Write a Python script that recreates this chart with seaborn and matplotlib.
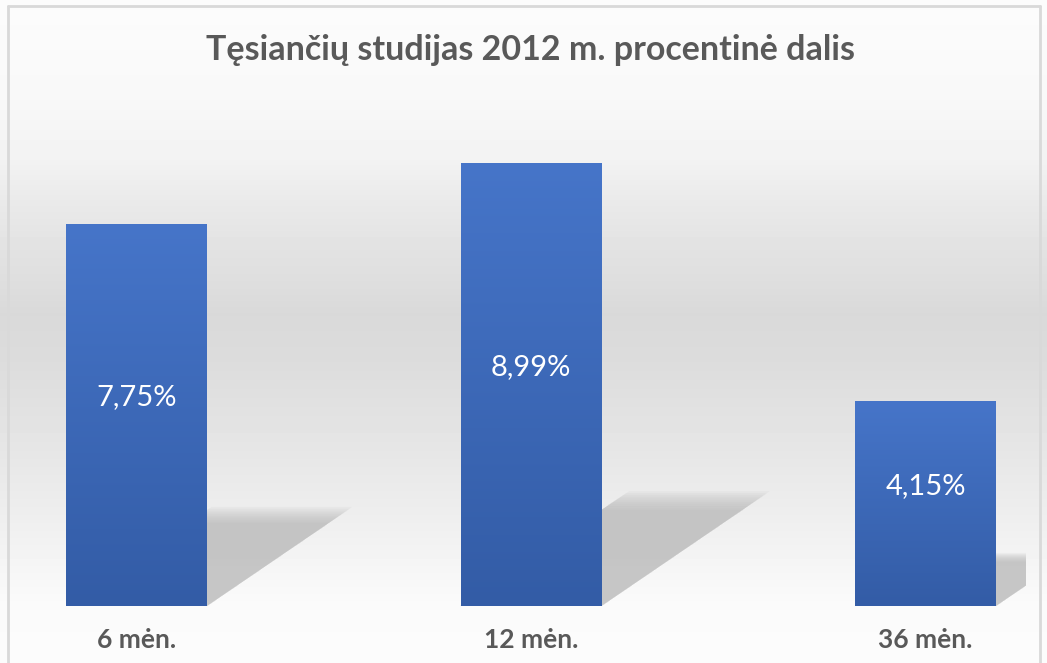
import matplotlib
matplotlib.use("Agg")
import matplotlib.pyplot as plt
import seaborn as sns
import numpy as np
import pandas as pd
from matplotlib.patches import Polygon
from matplotlib.colors import LinearSegmentedColormap

# data
categories = ["6 mėn.", "12 mėn.", "36 mėn."]
values = [7.75, 8.99, 4.15]
value_labels = ["7,75%", "8,99%", "4,15%"]
title = "Tęsiančių studijas 2012 m. procentinė dalis"

df = pd.DataFrame({"period": categories, "share": values})

sns.set_theme(style="white")
plt.rcParams["font.family"] = ["Lato", "DejaVu Sans"]

W, H = 1047, 663
fig = plt.figure(figsize=(W / 100, H / 100), dpi=100)

# background gradient (white -> grey -> white)
bg = fig.add_axes([0, 0, 1, 1], zorder=-10)
ypx = np.arange(H)
stops_y = [0, 100, 160, 200, 250, 290, 313, 360, 450, 530, 600, 663]
stops_v = [0xfc, 0xf8, 0xf2, 0xea, 0xe2, 0xdd, 0xd9, 0xdc, 0xe6, 0xf0, 0xfa, 0xfc]
grey = np.interp(ypx, stops_y, stops_v) / 255.0
img = np.repeat(grey[:, None], 2, axis=1)
bg.imshow(img, cmap="gray", vmin=0, vmax=1, aspect="auto", extent=[0, 1, 0, 1], origin="upper")
bg.set_axis_off()

# chart border
border_color = "#d9d9d9"
bx0, bx1, by = 8 / W, 1040 / W, 1 - 6 / H
fig.add_artist(plt.Line2D([bx0, bx1], [by, by], color=border_color, lw=2))
fig.add_artist(plt.Line2D([bx0, bx0], [0, by], color=border_color, lw=2))
fig.add_artist(plt.Line2D([bx1, bx1], [0, by], color=border_color, lw=2))

# plot area
ax = fig.add_axes([10 / W, 1 - 606 / H, (1026 - 10) / W, (606 - 113) / H])
ax.patch.set_alpha(0)
bar_w = 0.357
sns.barplot(data=df, x="period", y="share", width=bar_w, color="#4472c4", ax=ax,
            zorder=3, linewidth=0)
bars = list(ax.patches)
ax.set_xlim(-0.3207, 2.2548)
ax.set_ylim(0, 10)

# soft shadows on the "floor"
for i, v in enumerate(values):
    dx = 0.044 * v
    top = 0.24 * v
    for k in np.linspace(1.08, 0.9, 10):
        pts = [(i - bar_w / 2, 0), (i + bar_w / 2, 0),
               (i + bar_w / 2 + dx * k, top * k), (i - bar_w / 2 + dx * k, top * k)]
        ax.add_patch(Polygon(pts, closed=True, facecolor="#b4b4b4", edgecolor="none",
                             alpha=0.11, zorder=1))

# gradient fill for bars
bar_cmap = LinearSegmentedColormap.from_list("bar", ["#335ca6", "#4675c9"])
grad = np.linspace(0, 1, 256)[:, None]
for p in bars:
    x0, y0 = p.get_x(), p.get_y()
    w, h = p.get_width(), p.get_height()
    im = ax.imshow(grad, cmap=bar_cmap, aspect="auto", origin="lower",
                   extent=[x0, x0 + w, y0, y0 + h], zorder=3)
    im.set_clip_path(p)
ax.set_xlim(-0.3207, 2.2548)
ax.set_ylim(0, 10)

# value labels
for i, (v, lab) in enumerate(zip(values, value_labels)):
    ax.text(i, v / 2 + 0.36, lab, ha="center", va="center", color="white",
            fontsize=21, zorder=5)

ax.set_xlabel("")
ax.set_ylabel("")
ax.set_yticks([])
ax.tick_params(axis="x", length=0, pad=16)
for t in ax.get_xticklabels():
    t.set_fontweight("bold")
    t.set_fontsize(19)
    t.set_color("#595959")
sns.despine(ax=ax, left=True, bottom=True)

fig.text(530 / W, 1 - 50 / H, title, ha="center", va="center", fontsize=24.5,
         fontweight="bold", color="#595959")

fig.savefig("out.png", dpi=100)
